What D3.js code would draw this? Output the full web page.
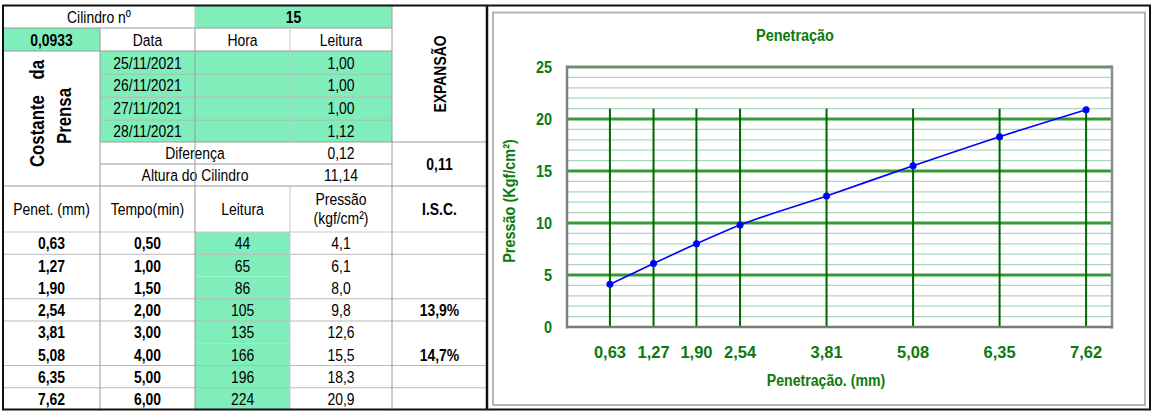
<!DOCTYPE html>
<html lang="pt-BR">
<head>
<meta charset="utf-8" />
<title>Penetração</title>
<script src="https://cdn.jsdelivr.net/npm/d3@7"></script>
<style>
  html, body { margin: 0; padding: 0; background: #fff; }
  svg { display: block; font-family: "Liberation Sans", Arial, sans-serif; }
</style>
</head>
<body>
<div id="chart"></div>
<script>
// dados do ensaio
const cilindro = "15";
const constante = "0,0933";
const datas = ["25/11/2021", "26/11/2021", "27/11/2021", "28/11/2021"];
const leiturasExp = [1.00, 1.00, 1.00, 1.12];
const diferenca = 0.12;
const alturaCilindro = 11.14;
const expansao = 0.11;

const penetracao = [0.63, 1.27, 1.90, 2.54, 3.81, 5.08, 6.35, 7.62];
const tempo = [0.50, 1.00, 1.50, 2.00, 3.00, 4.00, 5.00, 6.00];
const leitura = [44, 65, 86, 105, 135, 166, 196, 224];
const pressao = [4.1, 6.1, 8.0, 9.8, 12.6, 15.5, 18.3, 20.9];
const isc = ["", "", "", "13,9%", "", "14,7%", "", ""];

const yTicks = [0, 5, 10, 15, 20, 25];
const xTickLabels = ["0,63", "1,27", "1,90", "2,54", "3,81", "5,08", "6,35", "7,62"];
const topoLinhas = 21; // altura das linhas verticais

const pt = d3.formatLocale({ decimal: ",", thousands: ".", grouping: [3], currency: ["R$", ""] });
const f2 = pt.format(".2f"), f1 = pt.format(".1f");

const W = 1153, H = 412;
const svg = d3.select("#chart").append("svg")
  .attr("width", W).attr("height", H)
  .attr("viewBox", [0, 0, W, H]);

// texto "estreito" (imita Arial Narrow)
function txt(parent, cx, cy, s, opt = {}) {
  const rot = opt.rotate ? " rotate(-90)" : "";
  return parent.append("text")
    .attr("transform", `translate(${cx},${cy})${rot} scale(${opt.sx || 0.82},1)`)
    .attr("dy", "0.36em")
    .attr("text-anchor", opt.anchor || "middle")
    .attr("font-weight", opt.bold ? "bold" : null)
    .style("font-size", opt.size ? opt.size + "px" : null)
    .text(s);
}

// ---------- tabela ----------
const green = "#80eebb";
const colX = [3, 100, 195, 290, 392, 487];
const tbl = svg.append("g").style("font-size", "17px").attr("fill", "#000");

function cell(x0, x1, y0, y1, s, opt = {}) {
  if (opt.fill) tbl.append("rect").attr("x", x0).attr("y", y0).attr("width", x1 - x0).attr("height", y1 - y0).attr("fill", opt.fill);
  if (s !== undefined && s !== "") txt(tbl, (x0 + x1) / 2, (y0 + y1) / 2, s, opt);
}
function hline(x0, x1, y, c = "#9a9a9a") { tbl.append("line").attr("x1", x0).attr("x2", x1).attr("y1", y).attr("y2", y).attr("stroke", c).attr("stroke-width", 1); }
function vline(x, y0, y1, c = "#9a9a9a") { tbl.append("line").attr("x1", x).attr("x2", x).attr("y1", y0).attr("y2", y1).attr("stroke", c).attr("stroke-width", 1); }

// parte superior
cell(colX[0], colX[2], 6, 28, "Cilindro nº");
cell(colX[2], colX[4], 6, 28, cilindro, { fill: green, bold: true });
cell(colX[0], colX[1], 28, 51, constante, { fill: green, bold: true });
cell(colX[1], colX[2], 28, 51, "Data");
cell(colX[2], colX[3], 28, 51, "Hora");
cell(colX[3], colX[4], 28, 51, "Leitura");

const expRow = d3.scaleBand().domain(d3.range(datas.length)).range([51, 142]);
datas.forEach((d, i) => {
  const y0 = expRow(i), y1 = y0 + expRow.bandwidth();
  cell(colX[1], colX[2], y0, y1, d, { fill: green });
  cell(colX[2], colX[3], y0, y1, "", { fill: green });
  cell(colX[3], colX[4], y0, y1, f2(leiturasExp[i]), { fill: green });
});
cell(colX[1], colX[3], 142, 164, "Diferença");
cell(colX[3], colX[4], 142, 164, f2(diferenca));
cell(colX[1], colX[3], 164, 186, "Altura do Cilindro");
cell(colX[3], colX[4], 164, 186, f2(alturaCilindro));
cell(colX[4], colX[5], 142, 186, f2(expansao), { bold: true });

// textos rotacionados
txt(tbl, 440, 74, "EXPANSÃO", { rotate: true, bold: true });
txt(tbl, 37, 167, "Costante", { rotate: true, bold: true, anchor: "start", size: 20, sx: 0.84 });
txt(tbl, 37, 60, "da", { rotate: true, bold: true, anchor: "end", size: 20, sx: 0.84 });
txt(tbl, 64, 116, "Prensa", { rotate: true, bold: true, size: 20, sx: 0.84 });

// cabeçalho
cell(colX[0], colX[1], 186, 232, "Penet. (mm)");
cell(colX[1], colX[2], 186, 232, "Tempo(min)");
cell(colX[2], colX[3], 186, 232, "Leitura");
cell(colX[4], colX[5], 186, 232, "I.S.C.", { bold: true });
txt(tbl, (colX[3] + colX[4]) / 2, 199, "Pressão");
txt(tbl, (colX[3] + colX[4]) / 2, 218, "(kgf/cm²)");

// linhas de dados
const row = d3.scaleBand().domain(d3.range(penetracao.length)).range([232, 410]);
penetracao.forEach((p, i) => {
  const y0 = row(i), y1 = y0 + row.bandwidth();
  cell(colX[0], colX[1], y0, y1, f2(p), { bold: true });
  cell(colX[1], colX[2], y0, y1, f2(tempo[i]), { bold: true });
  cell(colX[2], colX[3], y0, y1, leitura[i], { fill: green });
  cell(colX[3], colX[4], y0, y1, f1(pressao[i]));
  cell(colX[4], colX[5], y0, y1, isc[i], { bold: true });
});

// grades da tabela
hline(colX[0], colX[4], 28);
hline(colX[0], colX[4], 51);
[74, 97, 120].forEach(y => hline(colX[1], colX[4], y, "#b0b0b0"));
hline(colX[1], colX[5], 142);
hline(colX[1], colX[4], 164);
hline(colX[0], colX[5], 186);
hline(colX[0], colX[5], 232, "#c8c8c8");
[1, 3, 4, 6, 7].forEach(i => hline(colX[0], colX[5], row(i), "#b8b8b8"));
vline(colX[2], 6, 28, "#c8c8c8");
vline(colX[1], 28, 410);
vline(colX[2], 28, 410);
vline(colX[3], 28, 142, "#c8c8c8");
vline(colX[3], 186, 410, "#c8c8c8");
vline(colX[4], 6, 410);

// bordas externas
svg.append("rect").attr("x", 3).attr("y", 5.5).attr("width", 1147).attr("height", 404)
  .attr("fill", "none").attr("stroke", "#111").attr("stroke-width", 2);
svg.append("line").attr("x1", 487).attr("x2", 487).attr("y1", 5).attr("y2", 410).attr("stroke", "#111").attr("stroke-width", 2.5);

// ---------- gráfico ----------
const green2 = "#0c7a0c";
svg.append("rect").attr("x", 493).attr("y", 12.5).attr("width", 652).attr("height", 392.5)
  .attr("fill", "#fff").attr("stroke", "#b4b4b4").attr("stroke-width", 2);

const x = d3.scaleLinear().domain([0, 8]).range([567, 1112]);
const y = d3.scaleLinear().domain([0, 25]).range([327, 67]);
const g = svg.append("g");

// grade menor
g.append("g").selectAll("line").data(y.ticks(25).filter(d => d % 5 !== 0)).join("line")
  .attr("x1", x(0)).attr("x2", x(8)).attr("y1", d => y(d)).attr("y2", d => y(d))
  .attr("stroke", "#acd8c0").attr("stroke-width", 1.2);
// grade maior
g.append("g").selectAll("line").data(yTicks.filter(d => d > 0 && d < 25)).join("line")
  .attr("x1", x(0)).attr("x2", x(8)).attr("y1", d => y(d)).attr("y2", d => y(d))
  .attr("stroke", "#339933").attr("stroke-width", 3);
g.append("line").attr("x1", x(0)).attr("x2", x(8)).attr("y1", y(25)).attr("y2", y(25))
  .attr("stroke", "#6f8d6f").attr("stroke-width", 3);

// linhas verticais
g.append("g").selectAll("line").data(penetracao).join("line")
  .attr("x1", d => x(d)).attr("x2", d => x(d)).attr("y1", y(0)).attr("y2", y(topoLinhas))
  .attr("stroke", "#006400").attr("stroke-width", 2);

// eixos
g.append("line").attr("x1", x(8)).attr("x2", x(8)).attr("y1", y(25) - 1.5).attr("y2", y(0) + 1.5).attr("stroke", "#8a8a8a").attr("stroke-width", 2.5);
g.append("line").attr("x1", x(0)).attr("x2", x(8) + 1).attr("y1", y(0)).attr("y2", y(0)).attr("stroke", "#7a7a7a").attr("stroke-width", 2.5);
g.append("line").attr("x1", x(0)).attr("x2", x(0)).attr("y1", y(25) - 1.5).attr("y2", y(0) + 1.5).attr("stroke", "#808080").attr("stroke-width", 2.5);

// série
const pts = penetracao.map((p, i) => ({ x: p, y: pressao[i] }));
const line = d3.line().x(d => x(d.x)).y(d => y(d.y)).curve(d3.curveMonotoneX);
g.append("path").attr("d", line(pts)).attr("fill", "none").attr("stroke", "#0000ff").attr("stroke-width", 1.6);
g.append("g").selectAll("circle").data(pts).join("circle")
  .attr("cx", d => x(d.x)).attr("cy", d => y(d.y)).attr("r", 3.5).attr("fill", "#0000ff");

// rótulos
const lab = svg.append("g").attr("fill", green2).style("font-size", "17px");
yTicks.forEach(d => txt(lab, 552, y(d), d, { bold: true, anchor: "end", sx: 0.85 }));
penetracao.forEach((d, i) => txt(lab, x(d), 352, xTickLabels[i], { bold: true, sx: 0.97 }));
txt(lab, 795, 35, "Penetração", { bold: true, sx: 0.85 });
txt(lab, 826, 380, "Penetração. (mm)", { bold: true, sx: 0.83 });
txt(lab, 509, 201, "Pressão (Kgf/cm²)", { bold: true, sx: 0.85, rotate: true });
</script>
</body>
</html>
